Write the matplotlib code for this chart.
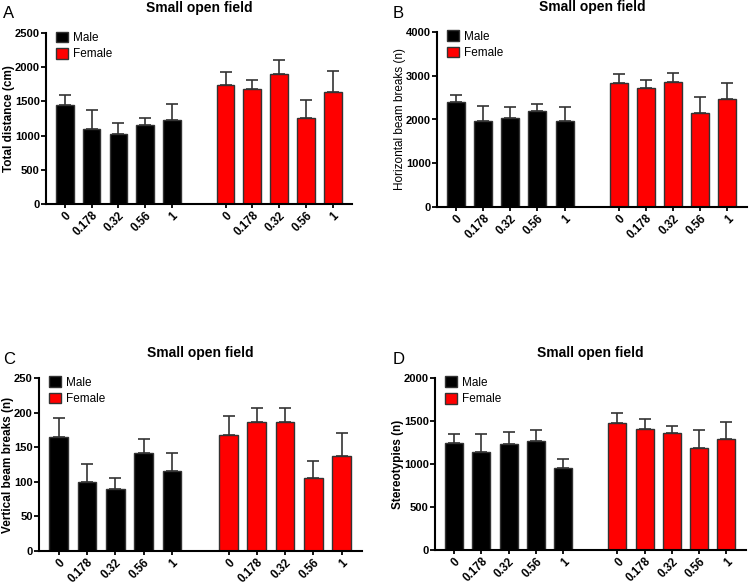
import numpy as np
import matplotlib
matplotlib.use('Agg')
import matplotlib.pyplot as plt
from matplotlib.patches import Patch

plt.rcParams['font.family'] = ['Liberation Sans', 'DejaVu Sans']

# Doses (same for both sexes)
doses = ['0', '0.178', '0.32', '0.56', '1']

# Panel A: total distance (cm)
dist_male = [1445, 1095, 1030, 1150, 1230]
dist_male_err = [150, 275, 150, 110, 235]
dist_female = [1745, 1675, 1900, 1255, 1640]
dist_female_err = [180, 140, 205, 260, 305]

# Panel B: horizontal beam breaks (n)
horiz_male = [2405, 1955, 2030, 2185, 1955]
horiz_male_err = [145, 350, 245, 175, 320]
horiz_female = [2830, 2710, 2855, 2140, 2465]
horiz_female_err = [200, 185, 200, 375, 365]

# Panel C: vertical beam breaks (n)
vert_male = [165, 100, 90, 141, 116]
vert_male_err = [27, 26, 15, 21, 26]
vert_female = [167, 186, 187, 105, 138]
vert_female_err = [28, 20, 19, 25, 33]

# Panel D: stereotypies (n)
stereo_male = [1250, 1135, 1227, 1273, 954]
stereo_male_err = [104, 211, 150, 123, 104]
stereo_female = [1481, 1404, 1365, 1185, 1285]
stereo_female_err = [107, 123, 77, 211, 203]

W, H = 750, 587
fig = plt.figure(figsize=(W / 100, H / 100), dpi=100)


def px_axes(left, top, right, bottom):
    return fig.add_axes([left / W, 1 - bottom / H, (right - left) / W, (bottom - top) / H])


panels = [
    dict(rect=(46, 33, 352, 204), letter='A', lpos=(3, 14), male=dist_male,
         male_err=dist_male_err, female=dist_female, female_err=dist_female_err,
         ylim=2500, step=500, ylabel='Total distance (cm)', ybold=True),
    dict(rect=(437, 32, 747, 207), letter='B', lpos=(393, 14), male=horiz_male,
         male_err=horiz_male_err, female=horiz_female, female_err=horiz_female_err,
         ylim=4000, step=1000, ylabel='Horizontal beam breaks (n)', ybold=False),
    dict(rect=(39, 378, 362, 551), letter='C', lpos=(3, 359), male=vert_male,
         male_err=vert_male_err, female=vert_female, female_err=vert_female_err,
         ylim=250, step=50, ylabel='Vertical beam breaks (n)', ybold=True),
    dict(rect=(435, 378, 746, 550), letter='D', lpos=(393, 359), male=stereo_male,
         male_err=stereo_male_err, female=stereo_female, female_err=stereo_female_err,
         ylim=2000, step=500, ylabel='Stereotypies (n)', ybold=True),
]

x_male = np.arange(5)
x_female = np.arange(5) + 6
edge = '#333333'

for p in panels:
    ax = px_axes(*p['rect'])
    for xs, vals, errs, col in [(x_male, p['male'], p['male_err'], 'black'),
                                (x_female, p['female'], p['female_err'], '#ff0000')]:
        ax.bar(xs, vals, width=0.66, color=col, edgecolor=edge, linewidth=1.0, zorder=2)
        ax.errorbar(xs, vals, yerr=[np.zeros(5), errs], fmt='none', ecolor=edge,
                    elinewidth=1.2, capsize=4, capthick=1.2, zorder=1)
    ax.set_xlim(-0.7, 10.72)
    ax.set_ylim(0, p['ylim'])
    ax.set_yticks(np.arange(0, p['ylim'] + 1, p['step']))
    ax.set_xticks(np.concatenate([x_male, x_female]))
    ax.set_xticklabels(doses + doses, rotation=45, ha='right', rotation_mode='anchor',
                       fontsize=8.3, fontweight='bold')
    for lab in ax.get_yticklabels():
        lab.set_fontweight('bold')
        lab.set_fontsize(8)
    ax.spines['top'].set_visible(False)
    ax.spines['right'].set_visible(False)
    ax.spines['left'].set_linewidth(1.5)
    ax.spines['bottom'].set_linewidth(1.5)
    ax.tick_params(axis='y', width=1.3, length=3.5, pad=1)
    ax.tick_params(axis='x', width=1.3, length=3, pad=1)
    ax.set_ylabel(p['ylabel'], fontsize=8.5,
                  fontweight='bold' if p['ybold'] else 'normal', labelpad=0)
    ax.set_title('Small open field', fontsize=10, fontweight='bold', pad=15)
    fig.text(p['lpos'][0] / W, 1 - p['lpos'][1] / H, p['letter'], fontsize=12,
             va='center', ha='left')
    handles = [Patch(facecolor='black', edgecolor=edge, label='Male'),
               Patch(facecolor='#ff0000', edgecolor=edge, label='Female')]
    ax.legend(handles=handles, loc='upper left', bbox_to_anchor=(0.01, 1.05), frameon=False,
              fontsize=8.5, handlelength=1.0, handleheight=1.0, handletextpad=0.4,
              labelspacing=0.35, borderaxespad=0.2)

fig.savefig('out.png', dpi=100)
